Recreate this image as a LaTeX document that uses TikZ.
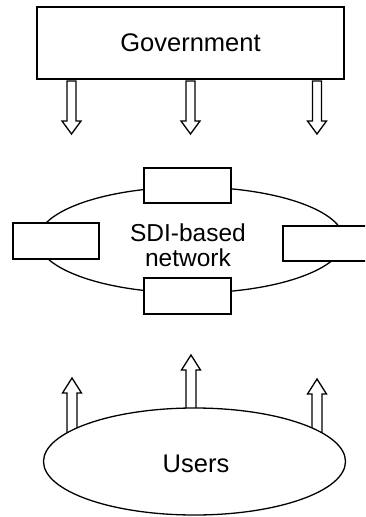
\documentclass[tikz,border=0pt]{standalone}
\usepackage{fontspec}
\setmainfont{Liberation Sans}
\usetikzlibrary{shapes.geometric}
\newcommand{\downarrowblock}[4]{% cx, ytop, yheadbase, ytip
  \draw[blockarrow] (#1-4.5,#2) -- (#1-4.5,#3) -- (#1-9.5,#3) -- (#1,#4) -- (#1+9.5,#3) -- (#1+4.5,#3) -- (#1+4.5,#2) -- cycle;}
\begin{document}
\begin{tikzpicture}[x=1pt,y=-1pt,
  every node/.style={font=\fontsize{25.5}{26}\selectfont},
  box/.style={draw, line width=1.3pt, fill=white, inner sep=0pt},
  oval/.style={draw, ellipse, line width=1.3pt, fill=white, inner sep=0pt},
  blockarrow/.style={draw, line width=1.3pt, fill=white, line join=miter}]
\clip (0,0) rectangle (365,517);
\fill[white] (0,0) rectangle (365,517);
% Government
\node[box, minimum width=307pt, minimum height=72pt] (gov) at (190.5,43) {Government};
% arrows down
\downarrowblock{71.5}{81}{121}{134}
\downarrowblock{190.5}{81}{121}{134}
\downarrowblock{317}{81}{121}{134}
% network
\node[oval, minimum width=306pt, minimum height=106pt, fill=none] (net) at (191,240) {};
\node[align=center, font=\fontsize{24.5}{24.5}\selectfont] (nettext) at (188,245) {SDI-based\\network};
\node[box, minimum width=87pt, minimum height=35pt] (ntop) at (187.5,185.5) {};
\node[box, minimum width=87pt, minimum height=36pt] (nbot) at (187.5,296) {};
\node[box, minimum width=86pt, minimum height=36pt] (nleft) at (56,241) {};
\node[box, minimum width=90pt, minimum height=35pt] (nright) at (328,243.5) {};
% arrows up
\draw[blockarrow] (67,440) -- (67,393) -- (62.5,393) -- (72,378) -- (81.5,393) -- (77,393) -- (77,440) -- cycle;
\draw[blockarrow] (186,420) -- (186,370) -- (181.5,370) -- (191,355) -- (200.5,370) -- (196,370) -- (196,420) -- cycle;
\draw[blockarrow] (312,440) -- (312,394) -- (307.5,394) -- (317,379) -- (326.5,394) -- (322,394) -- (322,440) -- cycle;
% users
\node[oval, minimum width=302pt, minimum height=107pt] (users) at (194.5,461.5) {};
\node (userstext) at (196,464) {Users};
\end{tikzpicture}
\end{document}
